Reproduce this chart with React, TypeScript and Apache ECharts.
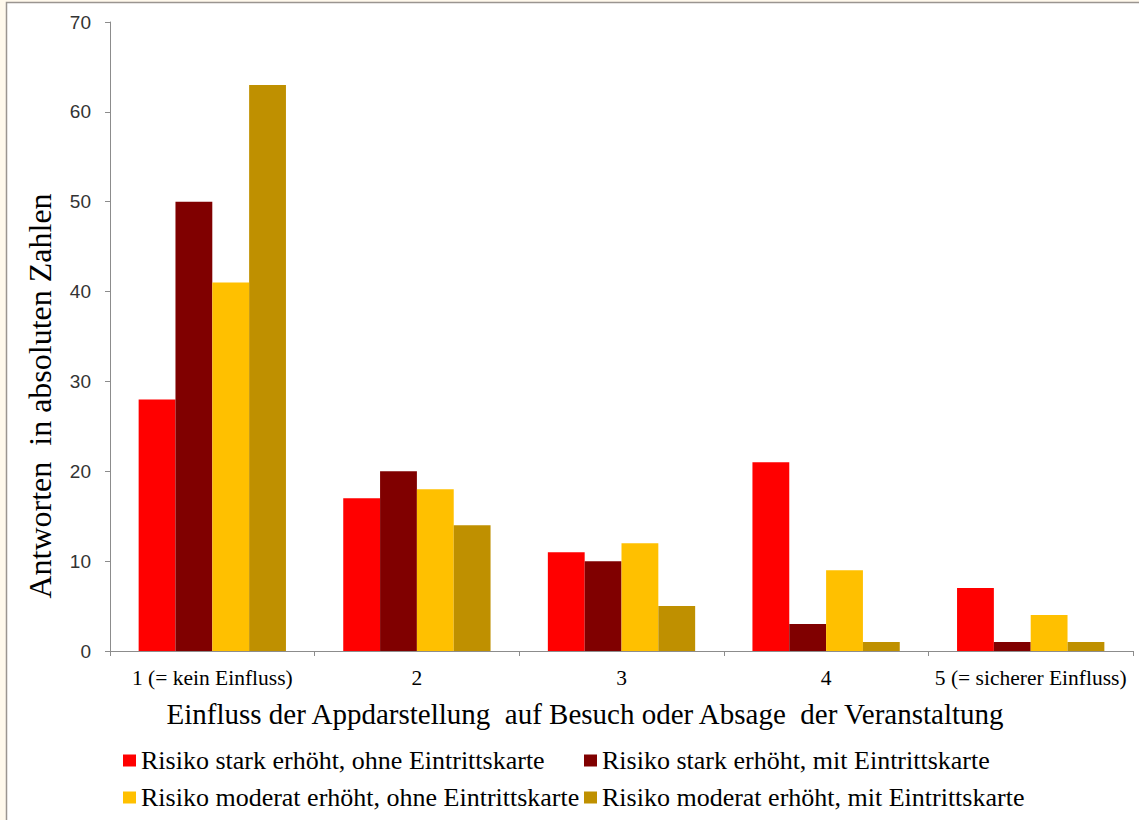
import React, { useEffect, useRef } from "react";
import * as echarts from "echarts";

const categories = ["1 (= kein Einfluss)", "2", "3", "4", "5 (= sicherer Einfluss)"];
const seriesNames = [
  "Risiko stark erhöht, ohne Eintrittskarte",
  "Risiko stark erhöht, mit Eintrittskarte",
  "Risiko moderat erhöht, ohne Eintrittskarte",
  "Risiko moderat erhöht, mit Eintrittskarte",
];
const starkOhne = [28, 17, 11, 21, 7];
const starkMit = [50, 20, 10, 3, 1];
const moderatOhne = [41, 18, 12, 9, 4];
const moderatMit = [63, 14, 5, 1, 1];
const seriesColors = ["#FF0000", "#800000", "#FFC000", "#BF9000"];
const yTicks = { min: 0, max: 70, interval: 10 };
const yTitle = "Antworten  in absoluten Zahlen";
const xTitle = "Einfluss der Appdarstellung  auf Besuch oder Absage  der Veranstaltung";

export default function App() {
  const ref = useRef<HTMLDivElement>(null);
  useEffect(() => {
    if (!ref.current) return;
    const chart = echarts.init(ref.current, null, { renderer: "svg" });
    const values = [starkOhne, starkMit, moderatOhne, moderatMit];
    const serif = "'Liberation Serif', 'Times New Roman', serif";
    const legendCommon = {
      orient: "vertical" as const,
      icon: "rect",
      itemWidth: 13,
      itemHeight: 12,
      itemGap: 10,
      padding: 0,
      textStyle: { fontFamily: serif, fontSize: 26, color: "#000", lineHeight: 27 },
      top: 747,
      height: 70,
    };
    chart.setOption({
      animation: false,
      backgroundColor: "#FFF9EC",
      graphic: [
        {
          type: "rect",
          z: -10,
          silent: true,
          shape: { x: 6.5, y: 2.5, width: 1140, height: 830 },
          style: { fill: "#FFFFFF", stroke: "#9A9590", lineWidth: 1.5 },
        },
        {
          type: "text",
          x: 40,
          y: 396,
          rotation: Math.PI / 2,
          style: {
            text: yTitle,
            font: `32px ${serif}`,
            fill: "#000",
            textAlign: "center",
            textVerticalAlign: "middle",
          },
        },
        {
          type: "text",
          x: 585,
          y: 714,
          style: {
            text: xTitle,
            font: `29px ${serif}`,
            fill: "#000",
            textAlign: "center",
            textVerticalAlign: "middle",
          },
        },
      ],
      legend: [
        { ...legendCommon, left: 123, data: [seriesNames[0], seriesNames[2]] },
        { ...legendCommon, left: 584, data: [seriesNames[1], seriesNames[3]] },
      ],
      grid: { left: 110, right: 6, top: 22, bottom: 169, containLabel: false },
      xAxis: {
        type: "category",
        data: categories,
        axisLine: { lineStyle: { color: "#8C8C8C", width: 1 } },
        axisTick: { show: true, length: 5, alignWithLabel: false, lineStyle: { color: "#8C8C8C" } },
        axisLabel: { fontFamily: serif, fontSize: 21.5, color: "#000", margin: 16, interval: 0 },
        splitLine: { show: false },
      },
      yAxis: {
        type: "value",
        min: yTicks.min,
        max: yTicks.max,
        interval: yTicks.interval,
        axisLine: { show: true, lineStyle: { color: "#8C8C8C", width: 1 } },
        axisTick: { show: true, length: 5, lineStyle: { color: "#8C8C8C" } },
        axisLabel: { fontFamily: "'Liberation Sans', Arial, sans-serif", fontSize: 19, color: "#333", margin: 19 },
        splitLine: { show: false },
      },
      series: values.map((v, i) => ({
        name: seriesNames[i],
        type: "bar",
        data: v,
        barGap: "0%",
        barCategoryGap: "28%",
        itemStyle: { color: seriesColors[i] },
      })),
    });
    return () => chart.dispose();
  }, []);
  return <div ref={ref} style={{ position: "absolute", left: 0, top: 0, width: 1139, height: 820 }} />;
}
